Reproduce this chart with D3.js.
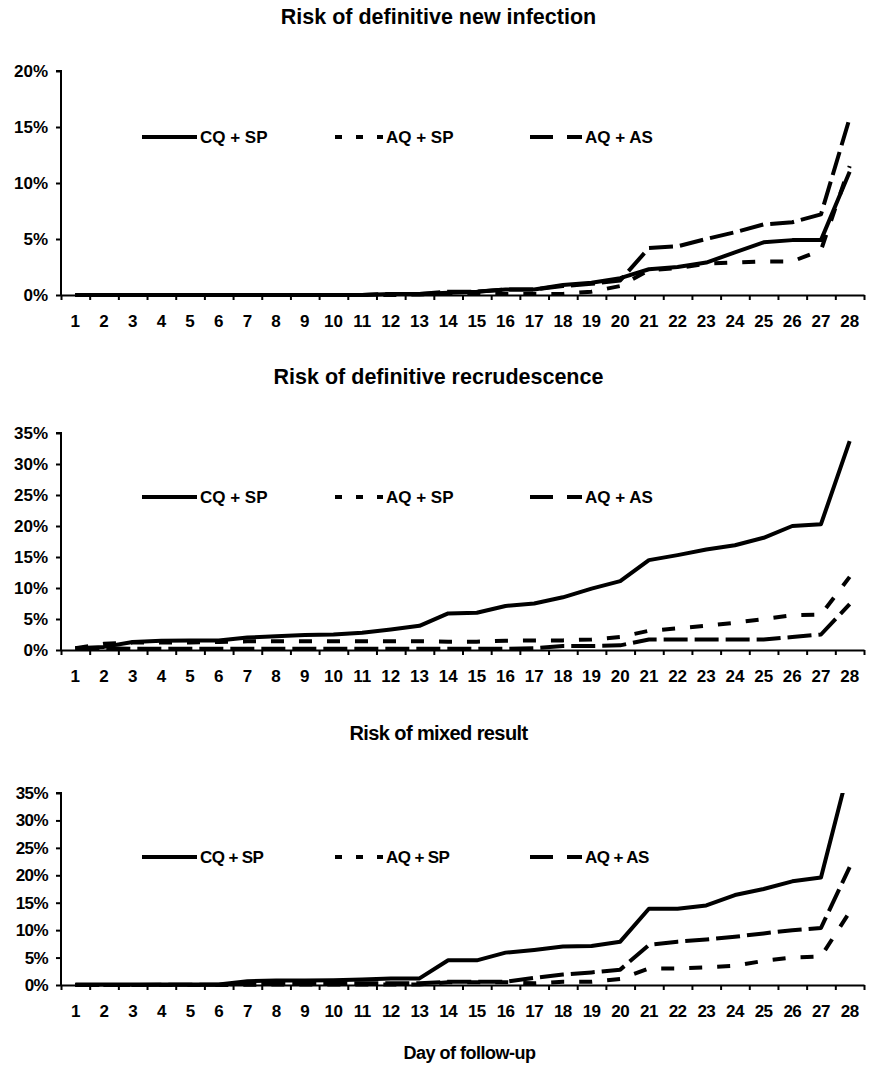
<!DOCTYPE html>
<html>
<head>
<meta charset="utf-8">
<script src="https://cdn.jsdelivr.net/npm/d3@7"></script>
<style>
  body { margin: 0; background: #fff; }
  svg { display: block; font-family: "Liberation Sans", Arial, sans-serif; font-weight: bold; }
</style>
</head>
<body>
<svg></svg>
<script>
// Data
const days = [1, 2, 3, 4, 5, 6, 7, 8, 9, 10, 11, 12, 13, 14, 15, 16, 17, 18, 19, 20, 21, 22, 23, 24, 25, 26, 27, 28];
const seriesNames = ['CQ + SP', 'AQ + SP', 'AQ + AS'];

const ticksNewInf = [0, 5, 10, 15, 20];
const ticksRisk35 = [0, 5, 10, 15, 20, 25, 30, 35];

// Risk of definitive new infection (%)
const newInfCQSP = [0, 0, 0, 0, 0, 0, 0, 0, 0, 0, 0, 0.1, 0.1, 0.2, 0.3, 0.5, 0.5, 0.9, 1.1, 1.5, 2.3, 2.5, 2.9, 3.8, 4.7, 4.9, 4.9, 11.0];
const newInfAQSP = [0, 0, 0, 0, 0, 0, 0, 0, 0, 0, 0, 0, 0.05, 0.1, 0.1, 0.1, 0.1, 0.1, 0.3, 0.8, 2.2, 2.4, 2.8, 2.9, 3.0, 3.0, 4.0, 11.5];
const newInfAQAS = [0, 0, 0, 0, 0, 0, 0, 0, 0, 0, 0, 0.1, 0.1, 0.3, 0.3, 0.5, 0.5, 0.8, 1.0, 1.3, 4.2, 4.35, 5.0, 5.6, 6.3, 6.5, 7.2, 15.8];

// Risk of definitive recrudescence (%)
const recCQSP = [0.3, 0.5, 1.3, 1.5, 1.55, 1.55, 2.0, 2.2, 2.4, 2.5, 2.8, 3.3, 3.9, 5.9, 6.0, 7.1, 7.5, 8.5, 9.9, 11.1, 14.5, 15.3, 16.2, 16.9, 18.1, 20.0, 20.3, 33.7];
const recAQSP = [0.3, 1.0, 1.2, 1.2, 1.2, 1.3, 1.4, 1.4, 1.4, 1.4, 1.4, 1.4, 1.4, 1.35, 1.35, 1.5, 1.55, 1.55, 1.7, 2.1, 3.1, 3.5, 3.9, 4.4, 5.0, 5.6, 5.7, 11.8];
const recAQAS = [0.3, 0.3, 0.2, 0.2, 0.2, 0.2, 0.2, 0.2, 0.2, 0.2, 0.2, 0.2, 0.2, 0.2, 0.2, 0.2, 0.3, 0.65, 0.65, 0.75, 1.7, 1.7, 1.7, 1.7, 1.7, 2.1, 2.5, 7.4];

// Risk of mixed result (%)
const mixCQSP = [0.1, 0.1, 0.1, 0.1, 0.1, 0.1, 0.7, 0.8, 0.8, 0.85, 1.0, 1.2, 1.2, 4.5, 4.5, 5.9, 6.4, 7.0, 7.1, 7.9, 13.9, 13.9, 14.5, 16.4, 17.5, 18.9, 19.6, 40.0];
const mixAQSP = [0, 0, 0, 0, 0, 0, 0.05, 0.1, 0.1, 0.1, 0.1, 0.1, 0.1, 0.5, 0.5, 0.5, 0.3, 0.6, 0.6, 1.1, 3.0, 3.0, 3.2, 3.5, 4.4, 5.0, 5.2, 13.3];
const mixAQAS = [0, 0, 0, 0.05, 0.05, 0.05, 0.3, 0.3, 0.3, 0.3, 0.3, 0.3, 0.3, 0.6, 0.6, 0.6, 1.3, 1.9, 2.3, 2.8, 7.3, 7.9, 8.3, 8.8, 9.4, 10.0, 10.4, 21.5];

// Constants
const width = 877;
const height = 1068;
const plotLeft = 61;
const plotRight = 864;

// line styles: solid, square dot, long dash
const lineDash = [null, '13,15', '24,7'];
const legendDash = [null, '7,14', '23,14'];
const legendX = [142, 335, 530];
const legendLen = [55, 48, 52];

const svg = d3.select('svg')
    .attr('width', width)
    .attr('height', height);

const xBand = d3.scaleBand()
    .domain(days)
    .range([plotLeft, plotRight]);

const xEdge = d3.scaleLinear()
    .domain([0, days.length])
    .range([plotLeft, plotRight]);

function drawPanel(p, idx) {
    const g = svg.append('g').attr('class', 'panel')
        .attr('letter-spacing', p.spacing);

    const yScale = d3.scaleLinear()
        .domain([0, p.yMax])
        .range([p.bottom, p.top]);

    // title
    g.append('text')
        .attr('x', width / 2)
        .attr('y', p.titleY)
        .attr('text-anchor', 'middle')
        .attr('dominant-baseline', 'central')
        .attr('font-size', p.titleSize)
        .attr('letter-spacing', p.titleSpacing)
        .text(p.title);

    // y axis
    const yAxis = d3.axisLeft(yScale)
        .tickValues(p.ticks)
        .tickFormat(d => d + '%')
        .tickSize(5)
        .tickPadding(8);

    g.append('g')
        .attr('transform', `translate(${plotLeft}, 0)`)
        .call(yAxis)
        .call(a => a.select('.domain').attr('stroke-width', 2).attr('d', `M-5,${p.top}H0V${p.bottom}`))
        .call(a => a.selectAll('line').attr('stroke-width', 2))
        .call(a => a.selectAll('text').attr('font-size', 17).attr('font-family', null));

    // x axis: ticks on category edges, labels in the middle
    const xTicks = d3.axisBottom(xEdge)
        .tickValues(d3.range(0, days.length + 1))
        .tickFormat('')
        .tickSize(5)
        .tickSizeOuter(0);

    g.append('g')
        .attr('transform', `translate(0, ${p.bottom})`)
        .call(xTicks)
        .call(a => a.select('.domain').attr('stroke-width', 2))
        .call(a => a.selectAll('line').attr('stroke-width', 2));

    const xLabels = d3.axisBottom(xBand)
        .tickSize(0)
        .tickPadding(20);

    g.append('g')
        .attr('transform', `translate(0, ${p.bottom})`)
        .call(xLabels)
        .call(a => a.select('.domain').remove())
        .call(a => a.selectAll('text').attr('font-size', 17).attr('font-family', null));

    // clip
    const clipId = 'clip' + idx;
    svg.append('clipPath').attr('id', clipId)
        .append('rect')
        .attr('x', plotLeft)
        .attr('y', p.top)
        .attr('width', plotRight - plotLeft)
        .attr('height', p.bottom - p.top + 3);

    const line = d3.line()
        .x((d, i) => xBand(days[i]) + xBand.bandwidth() / 2)
        .y(d => yScale(d));

    p.series.forEach((s, i) => {
        g.append('path')
            .datum(s)
            .attr('clip-path', `url(#${clipId})`)
            .attr('fill', 'none')
            .attr('stroke', '#000')
            .attr('stroke-width', 4)
            .attr('stroke-linejoin', 'round')
            .attr('stroke-dasharray', lineDash[i])
            .attr('d', line);
    });

    // legend
    const legend = g.append('g')
        .attr('transform', `translate(0, ${p.legendY})`);

    seriesNames.forEach((name, i) => {
        legend.append('line')
            .attr('x1', legendX[i])
            .attr('x2', legendX[i] + legendLen[i])
            .attr('stroke', '#000')
            .attr('stroke-width', 4)
            .attr('stroke-dasharray', legendDash[i]);

        legend.append('text')
            .attr('x', legendX[i] + legendLen[i] + 3)
            .attr('dominant-baseline', 'central')
            .attr('font-size', 17)
            .text(name);
    });
}

const panels = [
    {
        title: 'Risk of definitive new infection', titleY: 17, titleSize: 21.5, titleSpacing: 0,
        top: 71, bottom: 295, yMax: 20, ticks: ticksNewInf, legendY: 137, spacing: 0,
        series: [newInfCQSP, newInfAQSP, newInfAQAS]
    },
    {
        title: 'Risk of definitive recrudescence', titleY: 377, titleSize: 21.5, titleSpacing: 0,
        top: 433, bottom: 650, yMax: 35, ticks: ticksRisk35, legendY: 497, spacing: 0,
        series: [recCQSP, recAQSP, recAQAS]
    },
    {
        title: 'Risk of mixed result', titleY: 733, titleSize: 20, titleSpacing: -0.6,
        top: 793, bottom: 985, yMax: 35, ticks: ticksRisk35, legendY: 857, spacing: -0.6,
        series: [mixCQSP, mixAQSP, mixAQAS]
    }
];

panels.forEach(drawPanel);

// x axis title
svg.append('text')
    .attr('x', width / 2 + 31)
    .attr('y', 1053)
    .attr('text-anchor', 'middle')
    .attr('dominant-baseline', 'central')
    .attr('font-size', 18)
    .attr('letter-spacing', -0.5)
    .text('Day of follow-up');
</script>
</body>
</html>
